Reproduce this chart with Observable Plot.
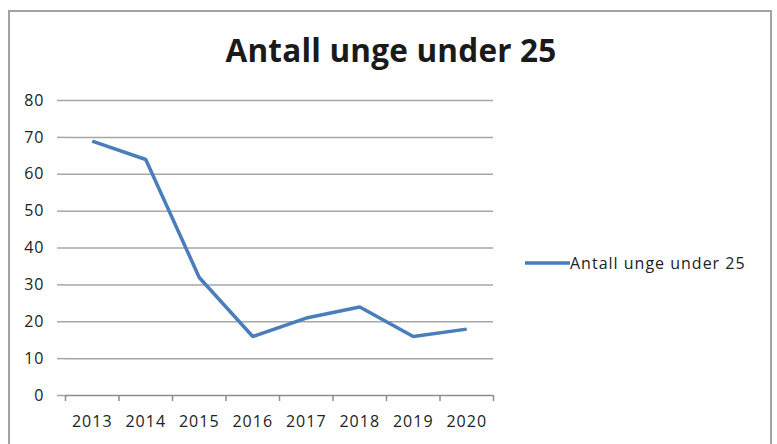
<!DOCTYPE html>
<html>
<head>
<meta charset="utf-8">
<script src="https://cdn.jsdelivr.net/npm/d3@7"></script>
<script src="https://cdn.jsdelivr.net/npm/@observablehq/plot@0.6"></script>
<style>
  html, body { margin: 0; padding: 0; background: #fff; }
  #wrap { position: relative; width: 777px; height: 444px; overflow: hidden; font-family: "Open Sans", sans-serif; }
  #frame { position: absolute; left: 8px; top: 10px; width: 764px; height: 460px; border: 2px solid #a3a3a3; box-sizing: border-box; }
  #title { position: absolute; left: 9px; width: 764px; top: 34px; text-align: center; font-size: 31.5px; font-weight: bold; line-height: 1; color: #1a1a1a; letter-spacing: 0.2px; }
  #chart { position: absolute; left: 0; top: 0; }
  #legend { position: absolute; left: 525px; top: 255px; display: flex; align-items: center; font-size: 16px; letter-spacing: 1px; color: #222; line-height: 1; }
  #legend svg { display: block; }
  #chart text { letter-spacing: 1px; }
</style>
</head>
<body>
<div id="wrap">
  <div id="frame"></div>
  <div id="title"></div>
  <div id="chart"></div>
  <div id="legend"></div>
</div>
<script>
const title = "Antall unge under 25";
const seriesName = "Antall unge under 25";
const years = [2013, 2014, 2015, 2016, 2017, 2018, 2019, 2020];
const values = [69, 64, 32, 16, 21, 24, 16, 18];
const yTicks = [0, 10, 20, 30, 40, 50, 60, 70, 80];

const lineColor = "#4a7ebb";
const gridColor = "#a6a6a6";

document.getElementById("title").textContent = title;

const data = years.map((year, i) => ({ year, value: values[i] }));
const boundaries = [...years.map(y => y - 0.5), years[years.length - 1] + 0.5];

const chart = Plot.plot({
  width: 777,
  height: 444,
  marginLeft: 65,
  marginRight: 284,
  marginTop: 100,
  marginBottom: 49,
  style: { background: "transparent", fontFamily: "'Open Sans', sans-serif", fontSize: "16px", color: "#222" },
  x: { domain: [boundaries[0], boundaries[boundaries.length - 1]] },
  y: { domain: [0, 80] },
  marks: [
    Plot.gridY(yTicks.filter(d => d > 0), { stroke: gridColor, strokeOpacity: 1, strokeWidth: 1.5 }),
    Plot.axisY(yTicks, { tickSize: 8, tickPadding: 13, stroke: gridColor, strokeOpacity: 1, strokeWidth: 1.5, label: null, fill: "#222", fontSize: 16 }),
    Plot.ruleY([0], { stroke: "#8c8c8c", strokeWidth: 1.5 }),
    Plot.axisX(boundaries, { tickSize: 6, tickFormat: () => "", stroke: "#8c8c8c", strokeWidth: 1.5, label: null }),
    Plot.axisX(years, { tickSize: 0, tickPadding: 20, tickFormat: d => String(d), label: null, fill: "#222", fontSize: 16 }),
    Plot.line(data, { x: "year", y: "value", stroke: lineColor, strokeWidth: 3.5, strokeLinejoin: "miter", strokeLinecap: "butt" })
  ]
});
document.getElementById("chart").appendChild(chart);

const legend = document.getElementById("legend");
legend.innerHTML = `<svg width="45" height="6"><line x1="0" y1="3" x2="45" y2="3" stroke="${lineColor}" stroke-width="3.5"/></svg><span></span>`;
legend.querySelector("span").textContent = seriesName;
</script>
</body>
</html>
